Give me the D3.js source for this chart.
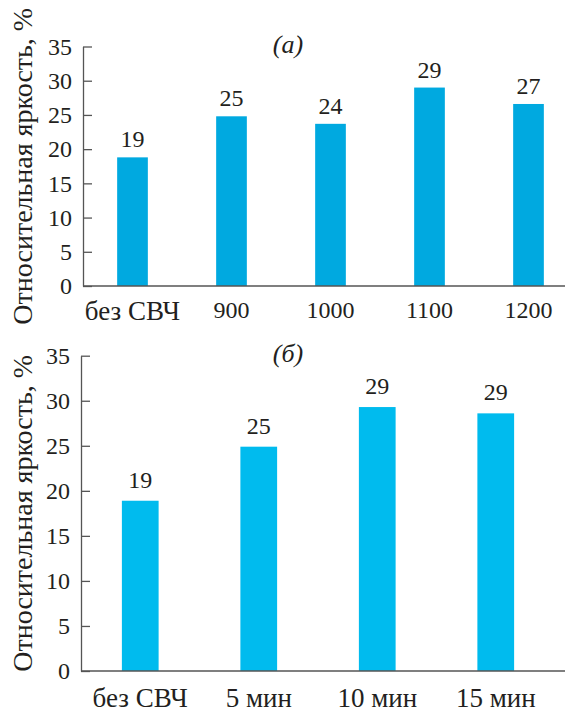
<!DOCTYPE html>
<html>
<head>
<meta charset="utf-8">
<script src="https://cdn.jsdelivr.net/npm/d3@7"></script>
</head>
<body style="margin:0;background:#fff">
<div class="chart"></div>
<script>
const yTicks = [0, 5, 10, 15, 20, 25, 30, 35]

const catsA = ['без СВЧ', '900', '1000', '1100', '1200']
const valuesA = [18.8, 24.8, 23.7, 29.0, 26.6]
const labelsA = ['19', '25', '24', '29', '27']

const catsB = ['без СВЧ', '5 мин', '10 мин', '15 мин']
const valuesB = [18.9, 24.9, 29.3, 28.6]
const labelsB = ['19', '25', '29', '29']

const yTitle = 'Относительная яркость, %'

const serif = "'Liberation Serif', 'Times New Roman', serif"
const ink = '#231f20'

const svg = d3.select('.chart')
  .append('svg')
  .attr('width', 565)
  .attr('height', 712)

function drawPanel(p) {
  const x = d3.scaleBand().domain(p.cats).range([p.left, p.right])
    .paddingInner(0.69).paddingOuter(0.345)
  const y = d3.scaleLinear().domain([0, 35]).range([p.bottom, p.top])

  const g = svg.append('g')

  g.selectAll('rect')
    .data(p.values)
    .enter()
    .append('rect')
      .attr('x', (d, i) => x(p.cats[i]))
      .attr('y', d => y(d))
      .attr('width', x.bandwidth())
      .attr('height', d => y(0) - y(d))
      .style('fill', p.color)

  g.selectAll('.val')
    .data(p.values)
    .enter()
    .append('text')
      .attr('class', 'val')
      .attr('x', (d, i) => x(p.cats[i]) + x.bandwidth() / 2)
      .attr('y', d => y(d) - p.labelGap)
      .attr('text-anchor', 'middle')
      .style('font-family', serif)
      .style('font-size', '24px')
      .style('fill', ink)
      .text((d, i) => p.labels[i])

  // y axis, ticks pointing inward
  const ya = g.append('g')
    .attr('transform', `translate(${p.left},0)`)
    .call(d3.axisLeft(y).tickValues(yTicks).tickSizeInner(-9).tickSizeOuter(0).tickPadding(11))
  ya.selectAll('path, line').attr('stroke', '#555').attr('stroke-width', 1.3)
  ya.selectAll('text')
    .style('font-family', serif)
    .style('font-size', '24px')
    .style('fill', ink)

  // x axis: line only, labels under each bar
  const xa = g.append('g')
    .attr('transform', `translate(0,${p.bottom})`)
    .call(d3.axisBottom(x).tickSize(0).tickPadding(p.catPad))
  xa.select('.domain').attr('d', `M${p.left},0H565`)
    .attr('stroke', '#555').attr('stroke-width', 1.3)
  xa.selectAll('text')
    .style('font-family', serif)
    .style('font-size', d => /^\d+$/.test(d) ? '24px' : '27px')
    .style('fill', ink)

  g.append('text')
    .attr('x', 288)
    .attr('y', p.titleY)
    .attr('text-anchor', 'middle')
    .style('font-family', serif)
    .style('font-size', '26px')
    .style('font-style', 'italic')
    .style('fill', ink)
    .text(p.title)

  g.append('text')
    .attr('transform', `translate(32,${(p.top + p.bottom) / 2}) rotate(-90)`)
    .attr('text-anchor', 'middle')
    .style('font-family', serif)
    .style('font-size', '28px')
    .style('fill', ink)
    .text(yTitle)
}

drawPanel({
  cats: catsA, values: valuesA, labels: labelsA,
  left: 83, right: 578, top: 46.5, bottom: 286,
  color: '#00a9e0', labelGap: 10, catPad: 15,
  title: '(а)', titleY: 53
})

drawPanel({
  cats: catsB, values: valuesB, labels: labelsB,
  left: 81, right: 555, top: 355.7, bottom: 671,
  color: '#00bbee', labelGap: 13, catPad: 17,
  title: '(б)', titleY: 362
})
</script>
</body>
</html>
